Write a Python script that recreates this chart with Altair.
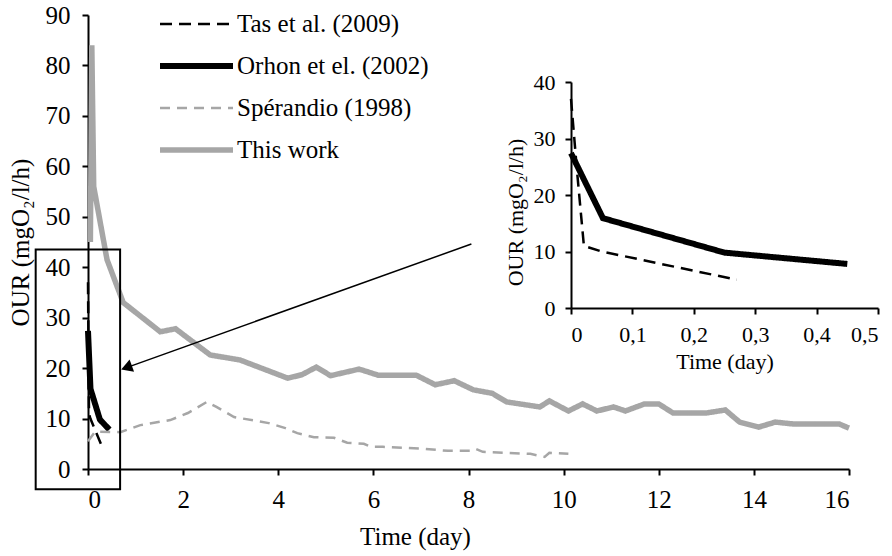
import altair as alt
import pandas as pd

FONT = "Liberation Serif"

series_names = ["Tas et al. (2009)", "Orhon et el. (2002)", "Spérandio (1998)", "This work"]

# Tas et al. (2009)
tas_t = [0, 0.01, 0.021, 0.05, 0.27]
tas_v = [37, 24, 11, 10, 5]
# Orhon et el. (2002)
orhon_t = [0, 0.052, 0.25, 0.45]
orhon_v = [27.4, 15.9, 9.8, 7.8]
# Spérandio (1998)
sp_t = [0, 0.15, 0.68, 1.1, 1.73, 2.1, 2.5, 2.7, 3.07, 3.8, 4.15, 4.4, 4.75, 5.17, 5.45,
        5.8, 5.95, 6.2, 7.07, 7.57, 8.05, 8.15, 8.3, 9.3, 9.6, 9.7, 10.1]
sp_v = [5.5, 7.4, 7.3, 8.7, 9.7, 11.1, 13.3, 12.3, 10.3, 9.1, 8.1, 7.1, 6.3, 6.2, 5.2,
        5.0, 4.4, 4.4, 4.0, 3.6, 3.6, 4.0, 3.4, 3.0, 2.4, 3.2, 3.0]
# This work
tw_t = [0.05, 0.08, 0.12, 0.4, 0.74, 1.52, 1.84, 2.57, 3.2, 4.2, 4.5, 4.8, 5.1, 5.7, 6.1,
        6.9, 7.3, 7.7, 8.1, 8.5, 8.8, 9.5, 9.7, 10.1, 10.4, 10.7, 11.05, 11.3, 11.7, 12.0,
        12.3, 13.0, 13.4, 13.7, 14.1, 14.45, 14.85, 15.8, 16.0]
tw_v = [45, 84, 56, 41.5, 33, 27.2, 27.8, 22.6, 21.6, 18, 18.7, 20.2, 18.5, 19.8, 18.6,
        18.6, 16.7, 17.5, 15.7, 15, 13.3, 12.3, 13.5, 11.5, 12.9, 11.5, 12.3, 11.5, 12.9, 12.9,
        11.1, 11.1, 11.7, 9.3, 8.3, 9.3, 8.9, 8.9, 8.1]

main_x_ticks = list(range(0, 17, 2))
main_y_ticks = list(range(0, 91, 10))
inset_x_ticks = [0, 0.1, 0.2, 0.3, 0.4, 0.5]
inset_y_ticks = [0, 10, 20, 30, 40]

# annotation (zoom box and arrow) in main-chart data units
box_t = [-1.1]; box_t2 = [0.675]; box_v = [-4]; box_v2 = [43.5]
arrow_t = [8.06]; arrow_t2 = [0.81]; arrow_v = [44.6]; arrow_v2 = [20.1]


def frame(pairs):
    rows = []
    for name, ts, vs in pairs:
        for t, v in zip(ts, vs):
            rows.append({"series": name, "t": t, "our": v})
    return pd.DataFrame(rows)


main_df = frame([(series_names[0], tas_t, tas_v), (series_names[1], orhon_t, orhon_v),
                 (series_names[2], sp_t, sp_v), (series_names[3], tw_t, tw_v)])
inset_df = frame([(series_names[0], tas_t, tas_v), (series_names[1], orhon_t, orhon_v)])
box_df = pd.DataFrame({"t": box_t, "t2": box_t2, "our": box_v, "our2": box_v2})
arrow_df = pd.DataFrame({"t": arrow_t, "t2": arrow_t2, "our": arrow_v, "our2": arrow_v2})
head_df = pd.DataFrame({"t": arrow_t2, "our": arrow_v2})

color_scale = alt.Scale(domain=series_names, range=["#000000", "#000000", "#a6a6a6", "#a6a6a6"])
dash_scale = alt.Scale(domain=series_names, range=[[12, 7], [1, 0], [10, 7], [1, 0]])
width_scale = alt.Scale(type="ordinal", domain=series_names, range=[2.5, 6, 2.5, 5.5])

legend = alt.Legend(title=None, orient="none", legendX=69, legendY=-3.5, symbolType="stroke",
                    symbolSize=5329, labelFont=FONT, labelFontSize=25, labelColor="black",
                    clipHeight=25, rowPadding=16, labelOffset=1, padding=0, labelLimit=400)

axis_style = dict(domainColor="black", domainWidth=2, tickColor="black", tickWidth=2,
                  tickSize=6, labelColor="black", titleColor="black", titleFont=FONT,
                  labelFont=FONT, titleFontWeight="normal", grid=False)

main_x = alt.X("t:Q", scale=alt.Scale(domain=[0, 16], nice=False),
               axis=alt.Axis(values=main_x_ticks, title="Time (day)", labelFontSize=25,
                             titleFontSize=25, labelPadding=12, titlePadding=12,
                             titleX=327, **axis_style))
main_y = alt.Y("our:Q", scale=alt.Scale(domain=[0, 90], nice=False),
               axis=alt.Axis(values=main_y_ticks, title="OUR (mgO₂/l/h)", labelFontSize=25,
                             titleFontSize=25, labelPadding=12, titlePadding=12,
                             **axis_style))

line_enc = dict(
    color=alt.Color("series:N", scale=color_scale, legend=legend),
    strokeDash=alt.StrokeDash("series:N", scale=dash_scale, legend=legend),
    strokeWidth=alt.StrokeWidth("series:N", scale=width_scale, legend=legend),
)

main_lines = alt.Chart(main_df).mark_line().encode(x=main_x, y=main_y, **line_enc)
box = alt.Chart(box_df).mark_rect(fillOpacity=0, stroke="black", strokeWidth=2).encode(
    x=main_x, x2="t2:Q", y=main_y, y2="our2:Q")
arrow = alt.Chart(arrow_df).mark_rule(color="black", strokeWidth=1.5).encode(
    x=main_x, x2="t2:Q", y=main_y, y2="our2:Q")
head = alt.Chart(head_df).mark_point(shape="triangle-up", angle=250, size=170, filled=True,
                                     color="black", opacity=1).encode(x=main_x, y=main_y)

main = alt.layer(main_lines, box, arrow, head)

inset_x = alt.X("t:Q", scale=alt.Scale(domain=[0, 0.5], range=[483, 790], nice=False, zero=False),
                axis=alt.Axis(orient="bottom", offset=-161, values=inset_x_ticks,
                              labelExpr="datum.value == 0 ? '0' : replace(format(datum.value, '.1f'), '.', ',')",
                              title="Time (day)",
                              labelFontSize=22, titleFontSize=22, labelPadding=10,
                              titlePadding=6, **axis_style))
inset_y = alt.Y("our:Q", scale=alt.Scale(domain=[0, 40], range=[293, 67], nice=False),
                axis=alt.Axis(orient="left", offset=-483, values=inset_y_ticks,
                              title="OUR (mgO₂/l/h)", labelFontSize=22, titleFontSize=22,
                              labelPadding=10, titlePadding=6, titleY=197, **axis_style))

inset = alt.Chart(inset_df).mark_line().encode(x=inset_x, y=inset_y, **line_enc)

chart = alt.layer(main, inset).resolve_scale(x="independent", y="independent").properties(
    width=761, height=454,
    autosize=alt.AutoSizeParams(type="none"),
    padding={"left": 88, "top": 15, "right": 43, "bottom": 87},
    background="white",
).configure(font=FONT).configure_axis(labelFont=FONT, titleFont=FONT).configure_legend(
    labelFont=FONT).configure_view(stroke=None)

chart.save("out.html", embed_options={"renderer": "svg", "actions": False})
